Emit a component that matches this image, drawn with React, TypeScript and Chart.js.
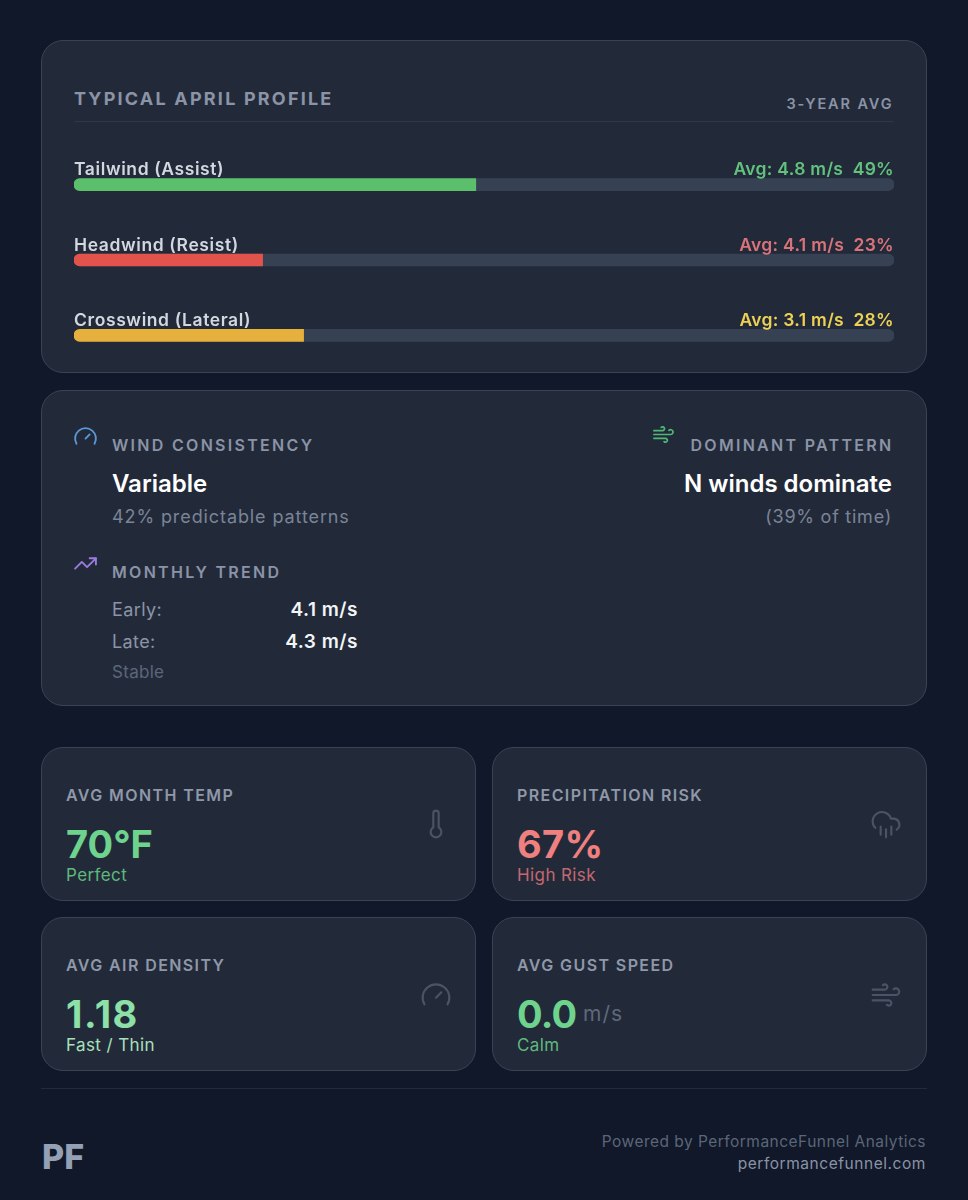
import React, { useRef, useEffect } from "react";
import { Chart, registerables } from "chart.js";

Chart.register(...registerables);

// wind profile data
const windLabels = ["Tailwind (Assist)", "Headwind (Resist)", "Crosswind (Lateral)"];
const windShares = [49, 23, 28];
const windAvgs = [4.8, 4.1, 3.1];
const trackValues = [100, 100, 100];

// stat cards
const statLabels = ["AVG MONTH TEMP", "PRECIPITATION RISK", "AVG AIR DENSITY", "AVG GUST SPEED"];
const statValues = ["70°F", "67%", "1.18", "0.0"];
const statNotes = ["Perfect", "High Risk", "Fast / Thin", "Calm"];

const barColors = ["#5bbf6b", "#e2534b", "#e5b03c"];
const avgColors = ["#62c27d", "#d9737a", "#ecd155"];
const statColors = ["#6ed38c", "#ef8080", "#8ce0a8", "#6ed38c"];
const noteColors = ["#5fb97a", "#c4686f", "#a9e0bb", "#5fb97a"];
const statSpacing = [0, 0.4, 1.5, -0.8];

const FONT = "Inter, sans-serif";

// row captions sit above each bar, so they follow the bar positions
const rowLabelPlugin = {
  id: "rowLabels",
  afterDatasetsDraw(chart: any) {
    const { ctx, chartArea } = chart;
    const bars = chart.getDatasetMeta(0).data;
    ctx.save();
    ctx.textBaseline = "alphabetic";
    bars.forEach((bar: any, i: number) => {
      const y = bar.y - 9.5;
      ctx.font = `600 17.5px ${FONT}`;
      ctx.letterSpacing = "0.6px";
      ctx.fillStyle = "#d3d8e0";
      ctx.textAlign = "left";
      ctx.fillText(windLabels[i], chartArea.left, y);
      ctx.letterSpacing = "0.3px";
      ctx.fillStyle = avgColors[i];
      ctx.textAlign = "right";
      ctx.fillText(`Avg: ${windAvgs[i].toFixed(1)} m/s  ${windShares[i]}%`, chartArea.right, y);
    });
    ctx.restore();
  },
};

const WindBars = () => {
  const canvasRef = useRef<HTMLCanvasElement>(null);

  useEffect(() => {
    if (!canvasRef.current) return;
    const chart = new Chart(canvasRef.current, {
      type: "bar",
      data: {
        labels: windLabels,
        datasets: [
          {
            label: "Share",
            data: windShares,
            backgroundColor: barColors,
            borderRadius: { topLeft: 6, bottomLeft: 6, topRight: 0, bottomRight: 0 },
            borderSkipped: false,
            barThickness: 12,
            grouped: false,
            order: 1,
          },
          {
            label: "Track",
            data: trackValues,
            backgroundColor: "#364153",
            borderRadius: 6,
            borderSkipped: false,
            barThickness: 12,
            grouped: false,
            order: 2,
          },
        ],
      },
      options: {
        indexAxis: "y",
        animation: false,
        responsive: false,
        maintainAspectRatio: false,
        layout: { padding: 0 },
        plugins: { legend: { display: false }, tooltip: { enabled: false } },
        scales: {
          x: { display: false, min: 0, max: 100 },
          y: { display: false },
        },
      },
      plugins: [rowLabelPlugin],
    } as any);
    return () => chart.destroy();
  }, []);

  return (
    <canvas
      ref={canvasRef}
      width={820}
      height={226}
      style={{ position: "absolute", left: 74, top: 147, width: 820, height: 226 }}
    />
  );
};

const Card = ({ x, y, w, h, r = 22 }: { x: number; y: number; w: number; h: number; r?: number }) => (
  <div
    style={{
      position: "absolute",
      left: x,
      top: y,
      width: w,
      height: h,
      boxSizing: "border-box",
      background: "#222a3a",
      border: "1.5px solid #3a4354",
      borderRadius: r,
    }}
  />
);

// text placed by its baseline
const T = ({ x, right, base, size, weight = 400, color, ls = 0, children }: any) => (
  <div
    style={{
      position: "absolute",
      left: x,
      right: right !== undefined ? 968 - right : undefined,
      top: base - 0.364 * size,
      lineHeight: 0,
      fontSize: size,
      fontWeight: weight,
      color,
      letterSpacing: ls,
      whiteSpace: "pre",
      fontFamily: FONT,
    }}
  >
    {children}
  </div>
);

const Icon = ({ x, y, size, color, sw = 2, paths }: any) => (
  <svg
    width={size}
    height={size}
    viewBox="0 0 24 24"
    fill="none"
    stroke={color}
    strokeWidth={sw}
    strokeLinecap="round"
    strokeLinejoin="round"
    style={{ position: "absolute", left: x, top: y }}
  >
    {paths.map((d: string) => (
      <path key={d} d={d} />
    ))}
  </svg>
);

const gauge = ["m12 14 4-4", "M3.34 19a10 10 0 1 1 17.32 0"];
const wind = ["M17.7 7.7a2.5 2.5 0 1 1 1.8 4.3H2", "M9.6 4.6A2 2 0 1 1 11 8H2", "M12.6 19.4A2 2 0 1 0 14 16H2"];
const trend = ["M22 7 13.5 15.5l-5-5L2 17", "M16 7h6v6"];
const thermo = ["M14 4v10.54a4 4 0 1 1-4 0V4a2 2 0 0 1 4 0Z"];
const rain = ["M4 14.899A7 7 0 1 1 15.71 8h1.79a4.5 4.5 0 0 1 2.5 8.242", "M16 14v6", "M8 14v6", "M12 16v6"];

const statX = [66, 517, 66, 517];
const statBase = [800.5, 800.5, 970.5, 970.5];

export default function App() {
  useEffect(() => {
    document.body.style.margin = "0";
    document.body.style.background = "#101829";
  }, []);

  return (
    <div style={{ position: "relative", width: 968, height: 1200, overflow: "hidden", background: "#101829" }}>
      <Card x={41} y={40} w={886} h={333} />
      <Card x={41} y={390} w={886} h={316} />
      <Card x={41} y={747} w={435} h={154} />
      <Card x={492} y={747} w={435} h={154} />
      <Card x={41} y={917} w={435} h={154} />
      <Card x={492} y={917} w={435} h={154} />

      <T x={74} base={105.5} size={18} weight={700} color="#8b94a6" ls={2.2}>TYPICAL APRIL PROFILE</T>
      <T right={893.5} base={109.5} size={14.5} weight={600} color="#8b94a6" ls={1.9}>3-YEAR AVG</T>
      <div style={{ position: "absolute", left: 74, top: 121, width: 820, height: 1, background: "#2f3849" }} />
      <WindBars />

      <Icon x={73} y={424} size={25} color="#5c97d6" sw={1.8} paths={gauge} />
      <T x={112} base={450.5} size={16} weight={600} color="#8b94a6" ls={2.3}>WIND CONSISTENCY</T>
      <T x={112} base={492.5} size={24} weight={600} color="#ffffff">Variable</T>
      <T x={112} base={524} size={18} color="#7b8496" ls={0.9}>42% predictable patterns</T>

      <Icon x={652} y={423} size={23} color="#4fb878" sw={1.8} paths={wind} />
      <T right={893.5} base={450.5} size={16} weight={600} color="#8b94a6" ls={2.3}>DOMINANT PATTERN</T>
      <T right={892} base={492.5} size={24} weight={600} color="#ffffff">N winds dominate</T>
      <T right={892} base={524} size={18} color="#7b8496" ls={0.75}>(39% of time)</T>

      <Icon x={73} y={551} size={25} color="#9a7be0" sw={1.8} paths={trend} />
      <T x={112} base={578} size={16} weight={600} color="#8b94a6" ls={2.3}>MONTHLY TREND</T>
      <T x={112} base={616.5} size={18} color="#8b94a6" ls={0.4}>Early:</T>
      <T right={358} base={617} size={19} weight={600} color="#f3f4f6" ls={0.5}>4.1 m/s</T>
      <T x={112} base={648.5} size={18} color="#8b94a6" ls={0.4}>Late:</T>
      <T right={358} base={649} size={19} weight={600} color="#f3f4f6" ls={0.5}>4.3 m/s</T>
      <T x={112} base={678} size={17} color="#5d6678" ls={0.3}>Stable</T>

      {statLabels.map((label, i) => (
        <React.Fragment key={label}>
          <T x={statX[i]} base={statBase[i]} size={16} weight={600} color="#8f98a9" ls={1.4}>{label}</T>
          <T x={statX[i]} base={statBase[i] + 57.5} size={38} weight={700} color={statColors[i]} ls={statSpacing[i]}>{statValues[i]}</T>
          <T x={statX[i]} base={statBase[i] + 81} size={17} color={noteColors[i]} ls={0.4}>{statNotes[i]}</T>
        </React.Fragment>
      ))}
      <T x={583} base={1022} size={21} color="#5f6879" ls={1}>m/s</T>

      <Icon x={420} y={808} size={32} color="#4b5464" sw={1.6} paths={thermo} />
      <Icon x={870} y={808} size={32} color="#4b5464" sw={1.6} paths={rain} />
      <Icon x={420} y={979} size={32} color="#4b5464" sw={1.6} paths={gauge} />
      <Icon x={870} y={979} size={32} color="#4b5464" sw={1.6} paths={wind} />

      <div style={{ position: "absolute", left: 41, top: 1088, width: 886, height: 1, background: "#232b3b" }} />
      <T x={42} base={1169} size={34} weight={800} color="#94a0b4">PF</T>
      <T right={926} base={1148} size={15.5} color="#5c6678" ls={0.47}>Powered by PerformanceFunnel Analytics</T>
      <T right={926} base={1170} size={15.5} color="#8a93a5" ls={0.55}>performancefunnel.com</T>
    </div>
  );
}
